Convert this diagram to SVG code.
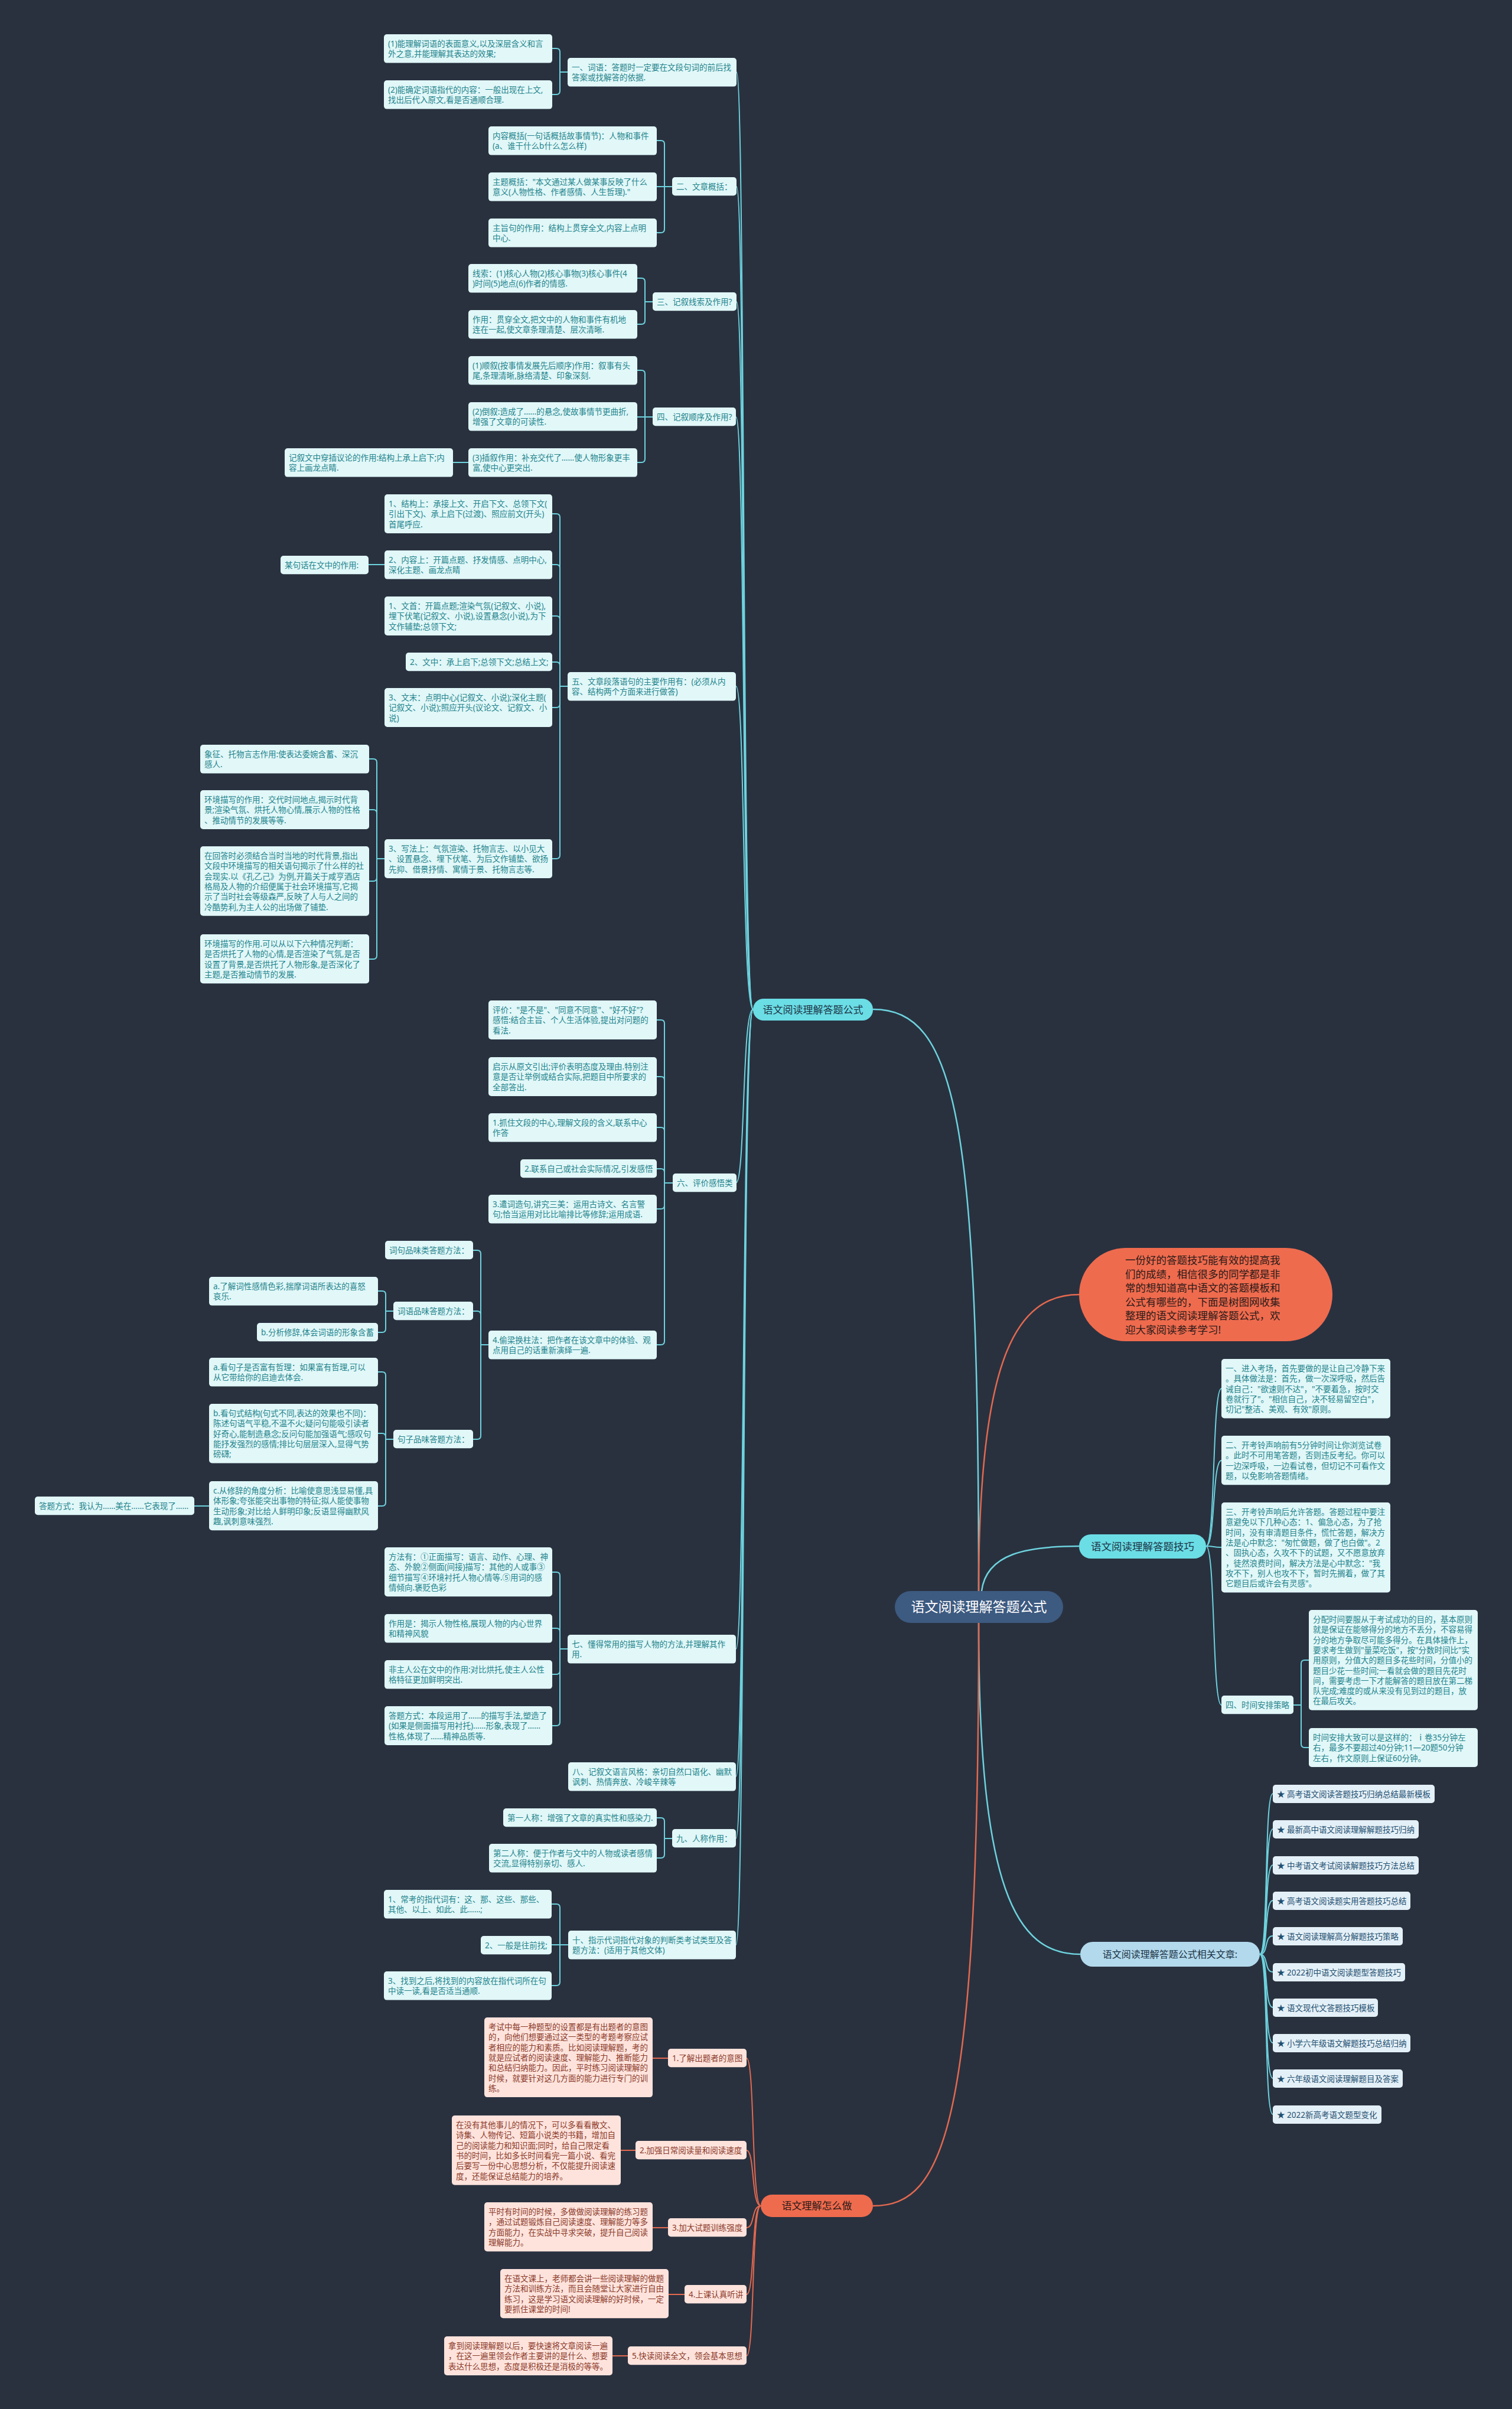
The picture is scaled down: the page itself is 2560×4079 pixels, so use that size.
<svg xmlns="http://www.w3.org/2000/svg" width="2560" height="4079" viewBox="0 0 2560 4079">
<style>
.bg{fill:#29313f}
.bx{fill:#e1f7f8}
.ob{fill:#fde3dc}
.sb{fill:#e4f0f7}
text{font-family:"Noto Sans","Noto Sans CJK SC",sans-serif}
.tx{font-size:13.5px;fill:#23848c}
.ot{font-size:13.5px;fill:#8c3a2a}
.st{font-size:13.5px;fill:#1f4f70}
.lc{fill:none;stroke:#6dd3de;stroke-width:2}
.lr{fill:none;stroke:#e3694f;stroke-width:2}
.big{fill:none;stroke-width:2.5}
</style>
<rect class="bg" x="0" y="0" width="2560" height="4079"/>

<g id="connectors">
<path class="lc big" d="M1657,2694 C1657,1900 1620,1709 1478,1709"/>
<path class="lr big" d="M1657,2694 C1657,2300 1720,2192 1827,2192"/>
<path class="lc big" d="M1662,2694 C1670,2630 1740,2618 1827,2618"/>
<path class="lc big" d="M1657,2748 C1657,3200 1720,3309 1829,3309"/>
<path class="lr big" d="M1657,2748 C1657,3600 1600,3735 1478,3735"/>

<path class="lc" d="M1275,1709 C1256,1709 1262,122 1247,122"/>
<path class="lc" d="M1275,1709 C1256,1709 1262,316 1247,316"/>
<path class="lc" d="M1275,1709 C1256,1709 1262,511 1247,511"/>
<path class="lc" d="M1275,1709 C1256,1709 1262,706 1246,706"/>
<path class="lc" d="M1275,1709 C1256,1709 1262,1162 1246,1162"/>
<path class="lc" d="M1275,1709 C1256,1709 1262,2003 1246,2003"/>
<path class="lc" d="M1275,1709 C1256,1709 1262,2792 1246,2792"/>
<path class="lc" d="M1275,1709 C1256,1709 1262,3008 1246,3008"/>
<path class="lc" d="M1275,1709 C1256,1709 1262,3113 1246,3113"/>
<path class="lc" d="M1275,1709 C1256,1709 1262,3293 1246,3293"/>

<path class="lc" d="M961,122 H948 V88 Q948,82 942,82 H935"/>
<path class="lc" d="M961,122 H948 V154 Q948,160 942,160 H935"/>
<path class="lc" d="M1138,316 H1125 V244 Q1125,238 1119,238 H1112"/>
<path class="lc" d="M1138,316 H1112"/>
<path class="lc" d="M1138,316 H1125 V388 Q1125,394 1119,394 H1112"/>
<path class="lc" d="M1105,511 H1092 V477 Q1092,471 1086,471 H1079"/>
<path class="lc" d="M1105,511 H1092 V543 Q1092,549 1086,549 H1079"/>
<path class="lc" d="M1105,706 H1092 V633 Q1092,627 1086,627 H1079"/>
<path class="lc" d="M1105,706 H1079"/>
<path class="lc" d="M1105,706 H1092 V777 Q1092,783 1086,783 H1079"/>
<path class="lc" d="M793,783 H767"/>
<path class="lc" d="M961,1162 H948 V876 Q948,870 942,870 H935"/>
<path class="lc" d="M961,1162 H948 V962 Q948,956 942,956 H935"/>
<path class="lc" d="M961,1162 H948 V1049 Q948,1043 942,1043 H935"/>
<path class="lc" d="M961,1162 H948 V1127 Q948,1121 942,1121 H935"/>
<path class="lc" d="M961,1162 H948 V1192 Q948,1198 942,1198 H935"/>
<path class="lc" d="M961,1162 H948 V1448 Q948,1454 942,1454 H935"/>
<path class="lc" d="M651,956 H624"/>
<path class="lc" d="M651,1454 H638 V1291 Q638,1285 632,1285 H625"/>
<path class="lc" d="M651,1454 H638 V1377 Q638,1371 632,1371 H625"/>
<path class="lc" d="M651,1454 H638 V1486 Q638,1492 632,1492 H625"/>
<path class="lc" d="M651,1454 H638 V1618 Q638,1624 632,1624 H625"/>
<path class="lc" d="M1139,2003 H1125 V1733 Q1125,1727 1119,1727 H1112"/>
<path class="lc" d="M1139,2003 H1125 V1829 Q1125,1823 1119,1823 H1112"/>
<path class="lc" d="M1139,2003 H1125 V1915 Q1125,1909 1119,1909 H1112"/>
<path class="lc" d="M1139,2003 H1125 V1985 Q1125,1979 1119,1979 H1112"/>
<path class="lc" d="M1139,2003 H1125 V2041 Q1125,2047 1119,2047 H1112"/>
<path class="lc" d="M1139,2003 H1125 V2271 Q1125,2277 1119,2277 H1112"/>
<path class="lc" d="M827,2277 H814 V2123 Q814,2117 808,2117 H801"/>
<path class="lc" d="M827,2277 H814 V2226 Q814,2220 808,2220 H801"/>
<path class="lc" d="M827,2277 H814 V2431 Q814,2437 808,2437 H801"/>
<path class="lc" d="M666,2220 H653 V2192 Q653,2186 647,2186 H640"/>
<path class="lc" d="M666,2220 H653 V2250 Q653,2256 647,2256 H640"/>
<path class="lc" d="M666,2437 H653 V2329 Q653,2323 647,2323 H640"/>
<path class="lc" d="M666,2437 H653 V2433 Q653,2427 647,2427 H640"/>
<path class="lc" d="M666,2437 H653 V2544 Q653,2550 647,2550 H640"/>
<path class="lc" d="M354,2550 H329"/>
<path class="lc" d="M961,2792 H948 V2668 Q948,2662 942,2662 H935"/>
<path class="lc" d="M961,2792 H948 V2763 Q948,2757 942,2757 H935"/>
<path class="lc" d="M961,2792 H948 V2829 Q948,2835 942,2835 H935"/>
<path class="lc" d="M961,2792 H948 V2916 Q948,2922 942,2922 H935"/>
<path class="lc" d="M1138,3113 H1125 V3084 Q1125,3078 1119,3078 H1112"/>
<path class="lc" d="M1138,3113 H1125 V3140 Q1125,3146 1119,3146 H1112"/>
<path class="lc" d="M962,3293 H948 V3230 Q948,3224 942,3224 H934"/>
<path class="lc" d="M962,3293 H934"/>
<path class="lc" d="M962,3293 H948 V3356 Q948,3362 942,3362 H934"/>

<path class="lc" d="M2042,2618 C2058,2618 2052,2351 2068,2351"/>
<path class="lc" d="M2042,2618 C2058,2618 2052,2473 2068,2473"/>
<path class="lc" d="M2042,2618 C2058,2618 2052,2620 2068,2620"/>
<path class="lc" d="M2042,2618 C2058,2618 2052,2887 2068,2887"/>
<path class="lc" d="M2190,2887 H2203 V2817 Q2203,2811 2209,2811 H2216"/>
<path class="lc" d="M2190,2887 H2203 V2953 Q2203,2959 2209,2959 H2216"/>

<path class="lc" d="M2133,3309 C2148,3309 2140,3037 2155,3037"/>
<path class="lc" d="M2133,3309 C2148,3309 2140,3097 2155,3097"/>
<path class="lc" d="M2133,3309 C2148,3309 2140,3158 2155,3158"/>
<path class="lc" d="M2133,3309 C2148,3309 2140,3218 2155,3218"/>
<path class="lc" d="M2133,3309 C2148,3309 2140,3278 2155,3278"/>
<path class="lc" d="M2133,3309 C2148,3309 2140,3339 2155,3339"/>
<path class="lc" d="M2133,3309 C2148,3309 2140,3399 2155,3399"/>
<path class="lc" d="M2133,3309 C2148,3309 2140,3459 2155,3459"/>
<path class="lc" d="M2133,3309 C2148,3309 2140,3519 2155,3519"/>
<path class="lc" d="M2133,3309 C2148,3309 2140,3580 2155,3580"/>

<path class="lr" d="M1288,3735 C1272,3735 1278,3485 1264,3485"/>
<path class="lr" d="M1288,3735 C1272,3735 1278,3641 1264,3641"/>
<path class="lr" d="M1288,3735 C1272,3735 1278,3772 1264,3772"/>
<path class="lr" d="M1288,3735 C1272,3735 1278,3885 1264,3885"/>
<path class="lr" d="M1288,3735 C1272,3735 1278,3989 1264,3989"/>
<path class="lr" d="M1131,3485 H1105"/>
<path class="lr" d="M1076,3641 H1051"/>
<path class="lr" d="M1131,3772 H1105"/>
<path class="lr" d="M1159,3885 H1132"/>
<path class="lr" d="M1063,3989 H1037"/>
</g>

<g id="center"><rect x="1515" y="2694" width="285" height="54" rx="27" fill="#3d5a80"/><text x="1657.5" y="2729" font-size="23" fill="#ffffff" text-anchor="middle">语文阅读理解答题公式</text></g>
<g id="b1"><rect x="1275" y="1691" width="203" height="37" rx="18" fill="#6bdde5"/><text x="1376.5" y="1715.5" font-size="17" fill="#1c3446" text-anchor="middle">语文阅读理解答题公式</text></g>
<g id="b2"><rect x="1827" y="2113" width="429" height="158" rx="79" fill="#ef6b4e"/><text font-size="17.5" fill="#2a1a18"><tspan x="1905" y="2140">一份好的答题技巧能有效的提高我</tspan><tspan x="1905" y="2163.5">们的成绩，相信很多的同学都是非</tspan><tspan x="1905" y="2187">常的想知道高中语文的答题模板和</tspan><tspan x="1905" y="2210.5">公式有哪些的，下面是树图网收集</tspan><tspan x="1905" y="2234">整理的语文阅读理解答题公式，欢</tspan><tspan x="1905" y="2257.5">迎大家阅读参考学习!</tspan></text></g>
<g id="b3"><rect x="1827" y="2598" width="215" height="41" rx="20" fill="#6bdde5"/><text x="1934.5" y="2624.5" font-size="17.5" fill="#1c3446" text-anchor="middle">语文阅读理解答题技巧</text></g>
<g id="b4"><rect x="1829" y="3288" width="304" height="42" rx="21" fill="#b3d9ec"/><text x="1981" y="3314.5" font-size="16" fill="#1c3446" text-anchor="middle">语文阅读理解答题公式相关文章:</text></g>
<g id="b5"><rect x="1288" y="3716" width="190" height="38" rx="19" fill="#ef6b4e"/><text x="1383" y="3741" font-size="17" fill="#2a1a18" text-anchor="middle">语文理解怎么做</text></g>

<g id="n1a"><rect class="bx" x="650" y="58" width="285" height="48.6" rx="5"/><text class="tx"><tspan x="657" y="79">(1)能理解词语的表面意义,以及深层含义和言</tspan><tspan x="657" y="96.3">外之意,并能理解其表达的效果;</tspan></text></g>
<g id="n1b"><rect class="bx" x="650" y="136" width="285" height="48.6" rx="5"/><text class="tx"><tspan x="657" y="157">(2)能确定词语指代的内容：一般出现在上文,</tspan><tspan x="657" y="174.3">找出后代入原文,看是否通顺合理.</tspan></text></g>
<g id="n1"><rect class="bx" x="961" y="98" width="286" height="48.6" rx="5"/><text class="tx"><tspan x="968" y="119">一、词语：答题时一定要在文段句词的前后找</tspan><tspan x="968" y="136.3">答案或找解答的依据.</tspan></text></g>

<g id="n2a"><rect class="bx" x="827" y="214" width="285" height="48.6" rx="5"/><text class="tx"><tspan x="834" y="235">内容概括(一句话概括故事情节)：人物和事件</tspan><tspan x="834" y="252.3">(a、谁干什么b什么怎么样)</tspan></text></g>
<g id="n2b"><rect class="bx" x="827" y="292" width="285" height="48.6" rx="5"/><text class="tx"><tspan x="834" y="313">主题概括："本文通过某人做某事反映了什么</tspan><tspan x="834" y="330.3">意义(人物性格、作者感情、人生哲理)."</tspan></text></g>
<g id="n2c"><rect class="bx" x="827" y="370" width="285" height="48.6" rx="5"/><text class="tx"><tspan x="834" y="391">主旨句的作用：结构上贯穿全文,内容上点明</tspan><tspan x="834" y="408.3">中心.</tspan></text></g>
<g id="n2"><rect class="bx" x="1138" y="300" width="109" height="31.3" rx="5"/><text class="tx" x="1145" y="321">二、文章概括：</text></g>

<g id="n3a"><rect class="bx" x="793" y="447" width="286" height="48.6" rx="5"/><text class="tx"><tspan x="800" y="468">线索：(1)核心人物(2)核心事物(3)核心事件(4</tspan><tspan x="800" y="485.3">)时间(5)地点(6)作者的情感.</tspan></text></g>
<g id="n3b"><rect class="bx" x="793" y="525" width="286" height="48.6" rx="5"/><text class="tx"><tspan x="800" y="546">作用：贯穿全文,把文中的人物和事件有机地</tspan><tspan x="800" y="563.3">连在一起,使文章条理清楚、层次清晰.</tspan></text></g>
<g id="n3"><rect class="bx" x="1105" y="495" width="142" height="31.3" rx="5"/><text class="tx" x="1112" y="516">三、记叙线索及作用?</text></g>

<g id="n4a"><rect class="bx" x="793" y="603" width="286" height="48.6" rx="5"/><text class="tx"><tspan x="800" y="624">(1)顺叙(按事情发展先后顺序)作用：叙事有头</tspan><tspan x="800" y="641.3">尾,条理清晰,脉络清楚、印象深刻.</tspan></text></g>
<g id="n4b"><rect class="bx" x="793" y="681" width="286" height="48.6" rx="5"/><text class="tx"><tspan x="800" y="702">(2)倒叙:造成了……的悬念,使故事情节更曲折,</tspan><tspan x="800" y="719.3">增强了文章的可读性.</tspan></text></g>
<g id="n4c"><rect class="bx" x="793" y="759" width="286" height="48.6" rx="5"/><text class="tx"><tspan x="800" y="780">(3)插叙作用：补充交代了……使人物形象更丰</tspan><tspan x="800" y="797.3">富,使中心更突出.</tspan></text></g>
<g id="n4c1"><rect class="bx" x="482" y="759" width="285" height="48.6" rx="5"/><text class="tx"><tspan x="489" y="780">记叙文中穿插议论的作用:结构上承上启下;内</tspan><tspan x="489" y="797.3">容上画龙点睛.</tspan></text></g>
<g id="n4"><rect class="bx" x="1105" y="690" width="141" height="31.3" rx="5"/><text class="tx" x="1112" y="711">四、记叙顺序及作用?</text></g>

<g id="n5a"><rect class="bx" x="651" y="837" width="284" height="65.9" rx="5"/><text class="tx"><tspan x="658" y="858">1、结构上：承接上文、开启下文、总领下文(</tspan><tspan x="658" y="875.3">引出下文)、承上启下(过渡)、照应前文(开头)</tspan><tspan x="658" y="892.6">首尾呼应.</tspan></text></g>
<g id="n5a1"><rect class="bx" x="475" y="941" width="149" height="31.3" rx="5"/><text class="tx" x="482" y="962">某句话在文中的作用:</text></g>
<g id="n5b"><rect class="bx" x="651" y="932" width="284" height="48.6" rx="5"/><text class="tx"><tspan x="658" y="953">2、内容上：开篇点题、抒发情感、点明中心,</tspan><tspan x="658" y="970.3">深化主题、画龙点睛</tspan></text></g>
<g id="n5c"><rect class="bx" x="651" y="1010" width="284" height="65.9" rx="5"/><text class="tx"><tspan x="658" y="1031">1、文首：开篇点题;渲染气氛(记叙文、小说),</tspan><tspan x="658" y="1048.3">埋下伏笔(记叙文、小说),设置悬念(小说),为下</tspan><tspan x="658" y="1065.6">文作辅垫;总领下文;</tspan></text></g>
<g id="n5d"><rect class="bx" x="687" y="1105" width="248" height="31.3" rx="5"/><text class="tx" x="694" y="1126">2、文中：承上启下;总领下文;总结上文;</text></g>
<g id="n5e"><rect class="bx" x="651" y="1165" width="284" height="65.9" rx="5"/><text class="tx"><tspan x="658" y="1186">3、文末：点明中心(记叙文、小说);深化主题(</tspan><tspan x="658" y="1203.3">记叙文、小说);照应开头(议论文、记叙文、小</tspan><tspan x="658" y="1220.6">说)</tspan></text></g>
<g id="n5f"><rect class="bx" x="651" y="1421" width="284" height="65.9" rx="5"/><text class="tx"><tspan x="658" y="1442">3、写法上：气氛渲染、托物言志、以小见大</tspan><tspan x="658" y="1459.3">、设置悬念、埋下伏笔、为后文作铺垫、欲扬</tspan><tspan x="658" y="1476.6">先抑、借景抒情、寓情于景、托物言志等.</tspan></text></g>
<g id="n5"><rect class="bx" x="961" y="1138" width="285" height="48.6" rx="5"/><text class="tx"><tspan x="968" y="1159">五、文章段落语句的主要作用有：(必须从内</tspan><tspan x="968" y="1176.3">容、结构两个方面来进行做答)</tspan></text></g>
<g id="n5f1"><rect class="bx" x="339" y="1261" width="286" height="48.6" rx="5"/><text class="tx"><tspan x="346" y="1282">象征、托物言志作用:使表达委婉含蓄、深沉</tspan><tspan x="346" y="1299.3">感人.</tspan></text></g>
<g id="n5f2"><rect class="bx" x="339" y="1338" width="286" height="65.9" rx="5"/><text class="tx"><tspan x="346" y="1359">环境描写的作用：交代时间地点,揭示时代背</tspan><tspan x="346" y="1376.3">景;渲染气氛、烘托人物心情,展示人物的性格</tspan><tspan x="346" y="1393.6">、推动情节的发展等等.</tspan></text></g>
<g id="n5f3"><rect class="bx" x="339" y="1433" width="286" height="117.8" rx="5"/><text class="tx"><tspan x="346" y="1454">在回答时必须结合当时当地的时代背景,指出</tspan><tspan x="346" y="1471.3">文段中环境描写的相关语句揭示了什么样的社</tspan><tspan x="346" y="1488.6">会现实.以《孔乙己》为例,开篇关于咸亨酒店</tspan><tspan x="346" y="1505.9">格局及人物的介绍便属于社会环境描写,它揭</tspan><tspan x="346" y="1523.2">示了当时社会等级森严,反映了人与人之间的</tspan><tspan x="346" y="1540.5">冷酷势利,为主人公的出场做了铺垫.</tspan></text></g>
<g id="n5f4"><rect class="bx" x="339" y="1582" width="286" height="83.2" rx="5"/><text class="tx"><tspan x="346" y="1603">环境描写的作用.可以从以下六种情况判断：</tspan><tspan x="346" y="1620.3">是否烘托了人物的心情,是否渲染了气氛,是否</tspan><tspan x="346" y="1637.6">设置了背景,是否烘托了人物形象,是否深化了</tspan><tspan x="346" y="1654.9">主题,是否推动情节的发展.</tspan></text></g>

<g id="n6a"><rect class="bx" x="827" y="1694" width="285" height="65.9" rx="5"/><text class="tx"><tspan x="834" y="1715">评价："是不是"、"同意不同意"、"好不好"?</tspan><tspan x="834" y="1732.3">感悟:结合主旨、个人生活体验,提出对问题的</tspan><tspan x="834" y="1749.6">看法.</tspan></text></g>
<g id="n6b"><rect class="bx" x="827" y="1790" width="285" height="65.9" rx="5"/><text class="tx"><tspan x="834" y="1811">启示从原文引出;评价表明态度及理由.特别注</tspan><tspan x="834" y="1828.3">意是否让举例或结合实际,把题目中所要求的</tspan><tspan x="834" y="1845.6">全部答出.</tspan></text></g>
<g id="n6c"><rect class="bx" x="827" y="1885" width="285" height="48.6" rx="5"/><text class="tx"><tspan x="834" y="1906">1.抓住文段的中心,理解文段的含义,联系中心</tspan><tspan x="834" y="1923.3">作答</tspan></text></g>
<g id="n6d"><rect class="bx" x="881" y="1963" width="231" height="31.3" rx="5"/><text class="tx" x="888" y="1984">2.联系自己或社会实际情况,引发感悟</text></g>
<g id="n6e"><rect class="bx" x="827" y="2023" width="285" height="48.6" rx="5"/><text class="tx"><tspan x="834" y="2044">3.遣词造句,讲究三美：运用古诗文、名言警</tspan><tspan x="834" y="2061.3">句;恰当运用对比比喻排比等修辞;运用成语.</tspan></text></g>
<g id="n6f"><rect class="bx" x="827" y="2253" width="285" height="48.6" rx="5"/><text class="tx"><tspan x="834" y="2274">4.偷梁换柱法：把作者在该文章中的体验、观</tspan><tspan x="834" y="2291.3">点用自己的话重新演绎一遍.</tspan></text></g>
<g id="n6"><rect class="bx" x="1139" y="1987" width="108" height="31.3" rx="5"/><text class="tx" x="1146" y="2008">六、评价感悟类</text></g>
<g id="n6f1"><rect class="bx" x="652" y="2101" width="149" height="31.3" rx="5"/><text class="tx" x="659" y="2122">词句品味类答题方法：</text></g>
<g id="n6f2"><rect class="bx" x="666" y="2204" width="135" height="31.3" rx="5"/><text class="tx" x="673" y="2225">词语品味答题方法：</text></g>
<g id="n6f2a"><rect class="bx" x="354" y="2162" width="286" height="48.6" rx="5"/><text class="tx"><tspan x="361" y="2183">a.了解词性感情色彩,揣摩词语所表达的喜怒</tspan><tspan x="361" y="2200.3">哀乐.</tspan></text></g>
<g id="n6f2b"><rect class="bx" x="435" y="2240" width="205" height="31.3" rx="5"/><text class="tx" x="442" y="2261">b.分析修辞,体会词语的形象含蓄</text></g>
<g id="n6f3"><rect class="bx" x="666" y="2421" width="135" height="31.3" rx="5"/><text class="tx" x="673" y="2442">句子品味答题方法：</text></g>
<g id="n6f3a"><rect class="bx" x="354" y="2299" width="286" height="48.6" rx="5"/><text class="tx"><tspan x="361" y="2320">a.看句子是否富有哲理：如果富有哲理,可以</tspan><tspan x="361" y="2337.3">从它带给你的启迪去体会.</tspan></text></g>
<g id="n6f3b"><rect class="bx" x="354" y="2377" width="286" height="100.5" rx="5"/><text class="tx"><tspan x="361" y="2398">b.看句式结构(句式不同,表达的效果也不同)：</tspan><tspan x="361" y="2415.3">陈述句语气平稳,不温不火;疑问句能吸引读者</tspan><tspan x="361" y="2432.6">好奇心,能制造悬念;反问句能加强语气;感叹句</tspan><tspan x="361" y="2449.9">能抒发强烈的感情;排比句层层深入,显得气势</tspan><tspan x="361" y="2467.2">磅礴;</tspan></text></g>
<g id="n6f3c"><rect class="bx" x="354" y="2508" width="286" height="83.2" rx="5"/><text class="tx"><tspan x="361" y="2529">c.从修辞的角度分析：比喻使意思浅显易懂,具</tspan><tspan x="361" y="2546.3">体形象;夸张能突出事物的特征;拟人能使事物</tspan><tspan x="361" y="2563.6">生动形象;对比给人鲜明印象;反语显得幽默风</tspan><tspan x="361" y="2580.9">趣,讽刺意味强烈.</tspan></text></g>
<g id="n6f3c1"><rect class="bx" x="59" y="2534" width="270" height="31.3" rx="5"/><text class="tx" x="66" y="2555">答题方式：我认为……美在……它表现了……</text></g>

<g id="n7a"><rect class="bx" x="651" y="2620" width="284" height="83.2" rx="5"/><text class="tx"><tspan x="658" y="2641">方法有：①正面描写：语言、动作、心理、神</tspan><tspan x="658" y="2658.3">态、外貌②侧面(间接)描写：其他的人或事③</tspan><tspan x="658" y="2675.6">细节描写④环境衬托人物心情等.⑤用词的感</tspan><tspan x="658" y="2692.9">情倾向.褒贬色彩</tspan></text></g>
<g id="n7b"><rect class="bx" x="651" y="2733" width="284" height="48.6" rx="5"/><text class="tx"><tspan x="658" y="2754">作用是：揭示人物性格,展现人物的内心世界</tspan><tspan x="658" y="2771.3">和精神风貌</tspan></text></g>
<g id="n7c"><rect class="bx" x="651" y="2811" width="284" height="48.6" rx="5"/><text class="tx"><tspan x="658" y="2832">非主人公在文中的作用:对比烘托,使主人公性</tspan><tspan x="658" y="2849.3">格特征更加鲜明突出.</tspan></text></g>
<g id="n7d"><rect class="bx" x="651" y="2889" width="284" height="65.9" rx="5"/><text class="tx"><tspan x="658" y="2910">答题方式：本段运用了……的描写手法,塑造了</tspan><tspan x="658" y="2927.3">(如果是侧面描写用衬托)……形象,表现了……</tspan><tspan x="658" y="2944.6">性格,体现了……精神品质等.</tspan></text></g>
<g id="n7"><rect class="bx" x="961" y="2768" width="285" height="48.6" rx="5"/><text class="tx"><tspan x="968" y="2789">七、懂得常用的描写人物的方法,并理解其作</tspan><tspan x="968" y="2806.3">用.</tspan></text></g>
<g id="n8"><rect class="bx" x="962" y="2984" width="284" height="48.6" rx="5"/><text class="tx"><tspan x="969" y="3005">八、记叙文语言风格：亲切自然口语化、幽默</tspan><tspan x="969" y="3022.3">讽刺、热情奔放、冷峻辛辣等</tspan></text></g>
<g id="n9a"><rect class="bx" x="852" y="3062" width="260" height="31.3" rx="5"/><text class="tx" x="859" y="3083">第一人称：增强了文章的真实性和感染力.</text></g>
<g id="n9b"><rect class="bx" x="828" y="3122" width="284" height="48.6" rx="5"/><text class="tx"><tspan x="835" y="3143">第二人称：便于作者与文中的人物或读者感情</tspan><tspan x="835" y="3160.3">交流,显得特别亲切、感人.</tspan></text></g>
<g id="n9"><rect class="bx" x="1138" y="3097" width="108" height="31.3" rx="5"/><text class="tx" x="1145" y="3118">九、人称作用：</text></g>
<g id="n10a"><rect class="bx" x="650" y="3200" width="284" height="48.6" rx="5"/><text class="tx"><tspan x="657" y="3221">1、常考的指代词有：这、那、这些、那些、</tspan><tspan x="657" y="3238.3">其他、以上、如此、此……;</tspan></text></g>
<g id="n10b"><rect class="bx" x="814" y="3278" width="120" height="31.3" rx="5"/><text class="tx" x="821" y="3299">2、一般是往前找;</text></g>
<g id="n10c"><rect class="bx" x="650" y="3338" width="284" height="48.6" rx="5"/><text class="tx"><tspan x="657" y="3359">3、找到之后,将找到的内容放在指代词所在句</tspan><tspan x="657" y="3376.3">中读一读,看是否适当通顺.</tspan></text></g>
<g id="n10"><rect class="bx" x="962" y="3269" width="284" height="48.6" rx="5"/><text class="tx"><tspan x="969" y="3290">十、指示代词指代对象的判断类考试类型及答</tspan><tspan x="969" y="3307.3">题方法：(适用于其他文体)</tspan></text></g>

<g id="r1"><rect class="bx" x="2068" y="2301" width="286" height="100.5" rx="5"/><text class="tx"><tspan x="2075" y="2322">一、进入考场，首先要做的是让自己冷静下来</tspan><tspan x="2075" y="2339.3">。具体做法是：首先，做一次深呼吸，然后告</tspan><tspan x="2075" y="2356.6">诫自己："欲速则不达"，"不要着急，按时交</tspan><tspan x="2075" y="2373.9">卷就行了"。"相信自己，决不轻易留空白"，</tspan><tspan x="2075" y="2391.2">切记"整洁、美观、有效"原则。</tspan></text></g>
<g id="r2"><rect class="bx" x="2068" y="2431" width="286" height="83.2" rx="5"/><text class="tx"><tspan x="2075" y="2452">二、开考铃声响前有5分钟时间让你浏览试卷</tspan><tspan x="2075" y="2469.3">。此时不可用笔答题，否则违反考纪。你可以</tspan><tspan x="2075" y="2486.6">一边深呼吸，一边看试卷，但切记不可看作文</tspan><tspan x="2075" y="2503.9">题，以免影响答题情绪。</tspan></text></g>
<g id="r3"><rect class="bx" x="2068" y="2544" width="286" height="152.4" rx="5"/><text class="tx"><tspan x="2075" y="2565">三、开考铃声响后允许答题。答题过程中要注</tspan><tspan x="2075" y="2582.3">意避免以下几种心态：1、偏急心态，为了抢</tspan><tspan x="2075" y="2599.6">时间，没有审清题目条件，慌忙答题，解决方</tspan><tspan x="2075" y="2616.9">法是心中默念："匆忙做题，做了也白做"。2</tspan><tspan x="2075" y="2634.2">、固执心态，久攻不下的试题，又不愿意放弃</tspan><tspan x="2075" y="2651.5">，徒然浪费时间，解决方法是心中默念："我</tspan><tspan x="2075" y="2668.8">攻不下，别人也攻不下，暂时先搁着，做了其</tspan><tspan x="2075" y="2686.1">它题目后或许会有灵感"。</tspan></text></g>
<g id="r4"><rect class="bx" x="2068" y="2871" width="122" height="31.3" rx="5"/><text class="tx" x="2075" y="2892">四、时间安排策略</text></g>
<g id="r4a"><rect class="bx" x="2216" y="2726" width="286" height="169.7" rx="5"/><text class="tx"><tspan x="2223" y="2747">分配时间要服从于考试成功的目的，基本原则</tspan><tspan x="2223" y="2764.3">就是保证在能够得分的地方不丢分，不容易得</tspan><tspan x="2223" y="2781.6">分的地方争取尽可能多得分。在具体操作上，</tspan><tspan x="2223" y="2798.9">要求考生做到"量菜吃饭"，按"分数时间比"实</tspan><tspan x="2223" y="2816.2">用原则，分值大的题目多花些时间，分值小的</tspan><tspan x="2223" y="2833.5">题目少花一些时间;一看就会做的题目先花时</tspan><tspan x="2223" y="2850.8">间，需要考虑一下才能解答的题目放在第二梯</tspan><tspan x="2223" y="2868.1">队完成;难度的或从来没有见到过的题目，放</tspan><tspan x="2223" y="2885.4">在最后攻关。</tspan></text></g>
<g id="r4b"><rect class="bx" x="2216" y="2926" width="286" height="65.9" rx="5"/><text class="tx"><tspan x="2223" y="2947">时间安排大致可以是这样的：ⅰ卷35分钟左</tspan><tspan x="2223" y="2964.3">右，最多不要超过40分钟;11—20题50分钟</tspan><tspan x="2223" y="2981.6">左右，作文原则上保证60分钟。</tspan></text></g>

<g id="s1"><rect class="sb" x="2155" y="3022" width="274" height="31" rx="5"/><text class="st" x="2162" y="3043">★ 高考语文阅读答题技巧归纳总结最新模板</text></g>
<g id="s2"><rect class="sb" x="2155" y="3082" width="247" height="31" rx="5"/><text class="st" x="2162" y="3103">★ 最新高中语文阅读理解解题技巧归纳</text></g>
<g id="s3"><rect class="sb" x="2155" y="3143" width="247" height="31" rx="5"/><text class="st" x="2162" y="3164">★ 中考语文考试阅读解题技巧方法总结</text></g>
<g id="s4"><rect class="sb" x="2155" y="3203" width="233" height="31" rx="5"/><text class="st" x="2162" y="3224">★ 高考语文阅读题实用答题技巧总结</text></g>
<g id="s5"><rect class="sb" x="2155" y="3263" width="220" height="31" rx="5"/><text class="st" x="2162" y="3284">★ 语文阅读理解高分解题技巧策略</text></g>
<g id="s6"><rect class="sb" x="2155" y="3324" width="224" height="31" rx="5"/><text class="st" x="2162" y="3345">★ 2022初中语文阅读题型答题技巧</text></g>
<g id="s7"><rect class="sb" x="2155" y="3384" width="178" height="31" rx="5"/><text class="st" x="2162" y="3405">★ 语文现代文答题技巧模板</text></g>
<g id="s8"><rect class="sb" x="2155" y="3444" width="233" height="31" rx="5"/><text class="st" x="2162" y="3465">★ 小学六年级语文解题技巧总结归纳</text></g>
<g id="s9"><rect class="sb" x="2155" y="3504" width="220" height="31" rx="5"/><text class="st" x="2162" y="3525">★ 六年级语文阅读理解题目及答案</text></g>
<g id="s10"><rect class="sb" x="2155" y="3565" width="184" height="31" rx="5"/><text class="st" x="2162" y="3586">★ 2022新高考语文题型变化</text></g>

<g id="o1a"><rect class="ob" x="820" y="3416" width="285" height="135.1" rx="5"/><text class="ot"><tspan x="827" y="3437">考试中每一种题型的设置都是有出题者的意图</tspan><tspan x="827" y="3454.3">的，向他们想要通过这一类型的考题考察应试</tspan><tspan x="827" y="3471.6">者相应的能力和素质。比如阅读理解题，考的</tspan><tspan x="827" y="3488.9">就是应试者的阅读速度、理解能力、推断能力</tspan><tspan x="827" y="3506.2">和总结归纳能力。因此，平时练习阅读理解的</tspan><tspan x="827" y="3523.5">时候，就要针对这几方面的能力进行专门的训</tspan><tspan x="827" y="3540.8">练。</tspan></text></g>
<g id="o1"><rect class="ob" x="1131" y="3469" width="133" height="31.3" rx="5"/><text class="ot" x="1138" y="3490">1.了解出题者的意图</text></g>
<g id="o2a"><rect class="ob" x="765" y="3582" width="286" height="117.8" rx="5"/><text class="ot"><tspan x="772" y="3603">在没有其他事儿的情况下，可以多看看散文、</tspan><tspan x="772" y="3620.3">诗集、人物传记、短篇小说类的书籍，增加自</tspan><tspan x="772" y="3637.6">己的阅读能力和知识面;同时，给自己限定看</tspan><tspan x="772" y="3654.9">书的时间，比如多长时间看完一篇小说、看完</tspan><tspan x="772" y="3672.2">后要写一份中心思想分析，不仅能提升阅读速</tspan><tspan x="772" y="3689.5">度，还能保证总结能力的培养。</tspan></text></g>
<g id="o2"><rect class="ob" x="1076" y="3625" width="188" height="31.3" rx="5"/><text class="ot" x="1083" y="3646">2.加强日常阅读量和阅读速度</text></g>
<g id="o3a"><rect class="ob" x="820" y="3729" width="285" height="83.2" rx="5"/><text class="ot"><tspan x="827" y="3750">平时有时间的时候，多做做阅读理解的练习题</tspan><tspan x="827" y="3767.3">，通过试题锻炼自己阅读速度、理解能力等多</tspan><tspan x="827" y="3784.6">方面能力，在实战中寻求突破，提升自己阅读</tspan><tspan x="827" y="3801.9">理解能力。</tspan></text></g>
<g id="o3"><rect class="ob" x="1131" y="3756" width="133" height="31.3" rx="5"/><text class="ot" x="1138" y="3777">3.加大试题训练强度</text></g>
<g id="o4a"><rect class="ob" x="847" y="3842" width="285" height="83.2" rx="5"/><text class="ot"><tspan x="854" y="3863">在语文课上，老师都会讲一些阅读理解的做题</tspan><tspan x="854" y="3880.3">方法和训练方法，而且会随堂让大家进行自由</tspan><tspan x="854" y="3897.6">练习，这是学习语文阅读理解的好时候，一定</tspan><tspan x="854" y="3914.9">要抓住课堂的时间!</tspan></text></g>
<g id="o4"><rect class="ob" x="1159" y="3869" width="105" height="31.3" rx="5"/><text class="ot" x="1166" y="3890">4.上课认真听讲</text></g>
<g id="o5a"><rect class="ob" x="752" y="3956" width="285" height="65.9" rx="5"/><text class="ot"><tspan x="759" y="3977">拿到阅读理解题以后，要快速将文章阅读一遍</tspan><tspan x="759" y="3994.3">，在这一遍里领会作者主要讲的是什么、想要</tspan><tspan x="759" y="4011.6">表达什么思想，态度是积极还是消极的等等。</tspan></text></g>
<g id="o5"><rect class="ob" x="1063" y="3973" width="201" height="31.3" rx="5"/><text class="ot" x="1070" y="3994">5.快读阅读全文，领会基本思想</text></g>
</svg>
